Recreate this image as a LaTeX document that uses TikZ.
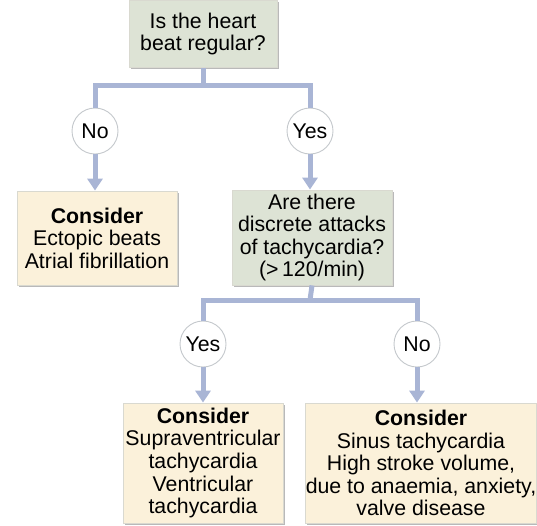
\documentclass[tikz,border=0pt]{standalone}
\usepackage{fontspec}
\setmainfont{Liberation Sans}
\usetikzlibrary{arrows.meta,shadows}
\definecolor{lineblue}{HTML}{A9B5D5}
\definecolor{qgreen}{HTML}{DDE3D5}
\definecolor{cream}{HTML}{FBF1DA}
\definecolor{boxedge}{HTML}{D9D9D0}
\definecolor{ringgray}{HTML}{C4C8CC}
\begin{document}
\begin{tikzpicture}[x=1pt,y=-1pt,
  every node/.style={font=\fontsize{21.3}{22.6}\selectfont},
  basebox/.style={rectangle, draw=boxedge, line width=0.8pt, align=center, inner sep=0pt,
    drop shadow={shadow xshift=1.6pt, shadow yshift=-1.6pt, fill=black!55}},
  qbox/.style={basebox, fill=qgreen},
  cbox/.style={basebox, fill=cream},
  answer/.style={circle, draw=ringgray, line width=0.9pt, fill=white, minimum size=46pt, inner sep=0pt},
  conn/.style={draw=lineblue, line width=5pt},
  arr/.style={conn, -{Triangle[width=15pt,length=12pt]}}
]
\useasboundingbox (0,0) rectangle (537,525);

% question boxes
\node[qbox, minimum width=148pt, minimum height=67pt] (q1) at (203,34)
  {Is the heart\\beat regular?};
\node[qbox, minimum width=160pt, minimum height=95pt] (q2) at (312,237.5)
  {Are there\\discrete attacks\\of tachycardia?\\(>\,120/min)};

% answer circles
\node[answer] (no1) at (95,131) {No};
\node[answer] (yes1) at (310,131) {Yes};
\node[answer] (yes2) at (203,344) {Yes};
\node[answer] (no2) at (417,344) {No};

% consider boxes
\node[cbox, minimum width=160pt, minimum height=94pt] (c1) at (97,238)
  {\textbf{Consider}\\Ectopic beats\\Atrial fibrillation};
\node[cbox, minimum width=160pt, minimum height=120pt] (c2) at (203,463)
  {\textbf{Consider}\\Supraventricular\\tachycardia\\Ventricular\\tachycardia};
\node[cbox, minimum width=228pt, minimum height=120pt] (c3) at (421,463)
  {\textbf{Consider}\\Sinus tachycardia\\High stroke volume,\\due to anaemia, anxiety,\\valve disease};

% connectors
\coordinate (j1) at (203,85);
\coordinate (j2) at (310,300);
\draw[conn] (q1.south) -- (j1);
\draw[conn] (no1.north) |- (j1) -| (yes1.north);
\draw[conn] (q2.south) -- (j2);
\draw[conn] (yes2.north) |- (j2) -| (no2.north);
\draw[arr] (no1.south) -- (no1.south |- c1.north);
\draw[arr] (yes1.south) -- (yes1.south |- q2.north);
\draw[arr] (yes2.south) -- (yes2.south |- c2.north);
\draw[arr] (no2.south) -- (no2.south |- c3.north);
\end{tikzpicture}
\end{document}
